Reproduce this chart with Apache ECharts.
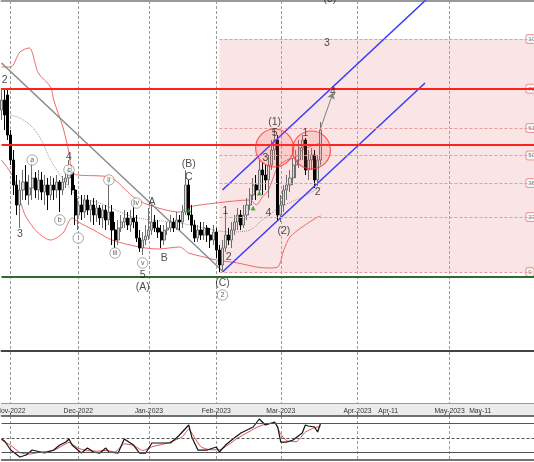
<!DOCTYPE html>
<html><head><meta charset="utf-8">
<script src="https://cdn.jsdelivr.net/npm/echarts@6/dist/echarts.min.js"></script>
<style>html,body{margin:0;padding:0;background:#fff}#c{width:534px;height:462px}</style>
</head><body><div id="c"></div>
<script>
// ---- slots / axis labels ----
const slotCount = 175;
const categories = Array.from({length: slotCount}, (_, i) => 'slot' + i);
const tickLabels = ['Nov-2022','Dec-2022','Jan-2023','Feb-2023','Mar-2023','Apr-2023','Apr-11','May-2023','May-11'];
const tickSlots  = [3, 25, 48, 70, 91, 116, 126, 146, 156];
const gridSlots  = [3, 25, 48, 70, 91, 116, 146];

// ---- candles [open, close, low, high] ----
const candles = [
[241,251,231,263],[251,236,221,263],[256,216,211,261],[216,191,186,221],[191,166,156,201],
[166,146,136,176],[146,161,123,171],[161,169,151,181],[169,156,151,186],[156,163,146,176],
[163,173,151,191],[173,161,153,179],[161,171,151,181],[171,159,151,179],[159,166,146,176],
[166,156,141,173],[156,166,151,175],[166,161,151,173],[161,169,153,176],[169,161,139,171],
[161,169,156,175],[169,173,163,179],[173,181,166,191],[179,161,156,186],[161,136,126,166],
[136,146,121,153],[146,139,131,156],[139,151,133,156],[151,141,136,156],[141,146,129,151],
[146,136,126,153],[136,143,129,151],[143,133,126,146],[133,141,123,146],[141,131,121,146],
[131,139,126,171],[139,121,106,146],[121,111,103,129],[111,123,106,131],[123,129,119,136],
[129,133,123,141],[133,126,121,139],[126,133,119,141],[133,129,123,151],[129,113,109,136],
[113,103,99,121],[103,111,96,119],[111,115,106,126],[115,121,111,143],[121,129,116,146],
[129,123,119,136],[123,119,113,131],[119,111,103,126],[111,121,106,126],[121,123,116,129],
[123,129,119,136],[129,123,119,133],[123,131,121,139],[131,129,121,136],[129,139,123,146],
[139,166,136,181],[166,136,131,171],[136,126,119,146],[126,113,109,131],[113,121,109,126],
[121,116,111,129],[116,123,111,129],[123,116,109,126],[116,111,103,123],[111,119,106,126],
[119,101,93,123],[101,86,79,106],[86,103,81,111],[103,116,99,141],[116,111,106,123],
[111,121,103,129],[121,129,116,136],[129,136,121,143],[136,126,121,141],[126,136,123,146],
[136,146,131,153],[146,156,141,163],[156,166,151,173],[166,161,151,176],[161,181,156,191],
[181,176,156,189],[176,171,161,186],[171,186,153,196],[186,201,181,211],[201,211,191,223],
[211,136,131,216],[136,146,129,156],[146,161,139,166],[161,166,151,176],[166,173,159,181],
[173,186,166,193],[186,191,173,201],[191,203,183,211],[203,211,191,216],[211,181,176,213],
[181,191,171,201],[191,196,181,203],[196,171,163,201],[171,191,165,196],[191,221,186,229]
];

// ---- Bollinger bands [slot, price] ----
const bbUpper = [[0,284],[3,284],[6,299],[9,303],[12,278],[16,264],[17,251],[20,224],[22,198],[23,179],[25,176],[35,174],[43,154],[48,146],[58,139],[61,144],[70,148],[81,151],[83,146],[85,154],[87,161],[90,184],[93,191],[96,194],[98,201],[104,208]];
const bbMid = [[3,236],[6,233],[10,224],[13,211],[16,191],[21,168],[25,154],[32,148],[43,134],[58,128],[66,123],[74,119],[81,121],[85,131],[91,144],[98,154],[104,164]];
const bbLower = [[0,191],[4,173],[6,151],[8,134],[12,118],[16,111],[20,118],[23,133],[25,129],[30,121],[36,111],[45,104],[51,102],[58,104],[61,98],[66,94],[70,91],[77,88],[83,84],[87,83],[90,84],[92,101],[94,114],[98,124],[103,134],[104,135]];

// ---- trend lines ----
const downTrend = [[0,288],[72,80]];
const channelUpper = [[72,161],[140,356]];
const channelLower = [[72,79],[138,268]];
const arrowFrom = [104.4,223], arrowTo = [108,258];

// ---- levels ----
const fibLevels = [0, 23.6, 38.2, 50, 61.8, 78.6, 100];
const fibTagText = ['0','23.6','38.2','50','61.8','78.6','100'];
const fibLow = 79, fibHigh = 312, fibStartSlot = 70.5, fibEndSlot = 174;
const redLevels = [262, 206];
const supportLevel = 74;

// ---- labels ----
const waveText  = ['2','3','4','3','5','(1)','4','(2)','1','2','1','2','(C)','(B)','C','A','B','5','(A)','3','(3)','4'];
const waveSlot  = [1,6,22,85.5,89.4,89.4,87.2,91.7,98.6,102.8,73.1,74.1,71.8,60.8,60.8,48.7,52.6,46.4,45.8,106,107.4,108];
const wavePrice = [271,117,194,193,218,229,138,120,218,159,140,94,68,187,174,149,93,76,64,308,352,259];
const circText  = ['a','c','b','i','ii','iii','iv','v','2'];
const circSlot  = [10,22,19,25,35,37,43.5,46,72];
const circPrice = [191,181,131,113,171,98,148,88,56];
const zoneSlot  = [89.1,100.8];
const zonePrice = [203,201];
const arrowUpSlot  = [61,82,84];
const arrowUpPrice = [141,143,158];

// ---- RSI ----
const rsiLine = [[0,48.6],[1,45.9],[3,33.6],[6,24.1],[8,26.8],[10,33.6],[14,29.5],[17,33.6],[19,40.4],[21,44.5],[22,48.6],[23,40.4],[26,29.5],[28,36.3],[30,30.9],[32,29.5],[34,36.3],[35,30.9],[38,29.5],[40,48.6],[43,40.4],[45,29.5],[47,29.5],[49,43.2],[53,43.2],[55,43.2],[57,50],[58,54.1],[61,67.7],[62,51.4],[64,33.6],[67,33.6],[70,37.7],[71,30.9],[73,40.4],[75,47.3],[78,56.8],[80,60.9],[82,65],[84,75.9],[86,67.7],[88,70.5],[89,71.8],[90,65],[91,44.5],[93,44.5],[95,47.3],[98,56.8],[99,67.7],[100,66.4],[102,65],[103,58.2],[104,70.5]];
const rsiSignal = [[0,47],[3,40],[6,30],[9,28],[13,31],[17,33],[20,40],[22,44],[25,36],[28,33],[31,32],[34,33],[37,31],[40,42],[43,40],[46,33],[49,38],[53,42],[56,46],[59,52],[61,62],[63,50],[65,38],[68,34],[71,34],[74,41],[77,50],[80,57],[83,64],[86,69],[89,70],[91,55],[93,46],[96,45],[99,58],[102,64],[104,66]];
const rsiLevels = [70, 50, 30];

// ---- build option ----
const isGrid = (i) => gridSlots.indexOf(i) >= 0;
const isTick = (i) => tickSlots.indexOf(i) >= 0;
const fibPrice = (l) => fibLow + (fibHigh - fibLow) * l / 100;
const dashV = {color:'#9a9a9a', type:[3,2], width:1};
const font = 'Liberation Sans, Arial, sans-serif';

const fibLines = fibLevels.map(l => [
  {coord:[fibStartSlot, fibPrice(l)], lineStyle:{color:'#e89a9a', type:[3,2], width:1}},
  {coord:[fibEndSlot, fibPrice(l)]}
]);
const redLines = redLevels.map(v => ({yAxis:v, lineStyle:{color:'#ff2020', width:2.2, type:'solid'}}));

const baseX = {type:'category', data:categories, boundaryGap:false, axisTick:{show:false}, axisLabel:{show:false}};
const baseGrid = {left:1.5, width:534, containLabel:false, outerBoundsMode:'none'};

const option = {
  animation:false,
  backgroundColor:'#fff',
  textStyle:{fontFamily:font},
  graphic:[{type:'rect', shape:{x:0,y:404,width:534,height:12}, style:{fill:'#ececec'}, z:-10}],
  grid:[
    Object.assign({}, baseGrid, {top:1, height:350}),
    Object.assign({}, baseGrid, {top:352, height:51}),
    Object.assign({}, baseGrid, {top:416, height:44})
  ],
  xAxis:[
    Object.assign({}, baseX, {gridIndex:0, axisLine:{lineStyle:{color:'#444', width:2}}, splitLine:{show:true, interval:isGrid, lineStyle:dashV}}),
    Object.assign({}, baseX, {gridIndex:0, position:'top', axisLine:{lineStyle:{color:'#999', width:2}}}),
    Object.assign({}, baseX, {gridIndex:1, axisLine:{lineStyle:{color:'#999', width:1}}, splitLine:{show:true, interval:isGrid, lineStyle:dashV}}),
    Object.assign({}, baseX, {gridIndex:2, position:'top', axisLine:{lineStyle:{color:'#444', width:1.5}},
      axisTick:{show:true, interval:isTick, length:3, lineStyle:{color:'#666'}},
      axisLabel:{show:true, interval:isTick, margin:1.5, fontSize:6.8, color:'#333', fontFamily:font, hideOverlap:false,
        formatter:(v, i) => { const k = tickSlots.indexOf(i); return k >= 0 ? tickLabels[k] : ''; }},
      splitLine:{show:true, interval:isGrid, lineStyle:dashV}}),
    Object.assign({}, baseX, {gridIndex:2, axisLine:{lineStyle:{color:'#444', width:1.5}}})
  ],
  yAxis:[
    {gridIndex:0, type:'value', min:0, max:350, show:false},
    {gridIndex:1, type:'value', min:0, max:1, show:false},
    {gridIndex:2, type:'value', min:20, max:80, show:false}
  ],
  series:[
    {name:'fibTags', type:'scatter', xAxisIndex:0, yAxisIndex:0, z:1, symbolSize:0, clip:false,
      data: fibLevels.map((l, k) => [171, fibPrice(l), fibTagText[k]]),
      label:{show:true, position:'right', distance:0, formatter:p => p.data[2], fontSize:6, color:'#555',
        backgroundColor:'#fff', borderColor:'#e08a8a', borderWidth:1, borderRadius:2, padding:[1,2]},
      markArea:{silent:true, itemStyle:{color:'rgba(236,170,170,0.30)'},
        data:[[{coord:[fibStartSlot, fibLow]}, {coord:[fibEndSlot, fibHigh]}]]},
      markLine:{silent:true, symbol:['none','none'], label:{show:false}, animation:false,
        data: fibLines.concat(redLines).concat([{yAxis:supportLevel, lineStyle:{color:'#2f6a2f', width:2, type:'solid'}}])}
    },
    {name:'bbUpper', type:'line', xAxisIndex:0, yAxisIndex:0, data:bbUpper, smooth:0.3, symbol:'none', z:2, lineStyle:{color:'#f06868', width:1}},
    {name:'bbLower', type:'line', xAxisIndex:0, yAxisIndex:0, data:bbLower, smooth:0.3, symbol:'none', z:2, lineStyle:{color:'#f06868', width:1}},
    {name:'bbMid', type:'line', xAxisIndex:0, yAxisIndex:0, data:bbMid, smooth:0.3, symbol:'none', z:2, lineStyle:{color:'#999', width:1, type:'dotted'}},
    {name:'downTrend', type:'line', xAxisIndex:0, yAxisIndex:0, data:downTrend, symbol:'none', z:2, lineStyle:{color:'#8a8a8a', width:1.5}},
    {name:'price', type:'candlestick', xAxisIndex:0, yAxisIndex:0, data:candles, barWidth:2.6, z:3,
      itemStyle:{color:'#dcdcdc', color0:'#000', borderColor:'#6e6e6e', borderColor0:'#000', borderWidth:1}},
    {name:'channelUpper', type:'line', xAxisIndex:0, yAxisIndex:0, data:channelUpper, symbol:'none', z:4, lineStyle:{color:'#3a3aff', width:1.5}},
    {name:'channelLower', type:'line', xAxisIndex:0, yAxisIndex:0, data:channelLower, symbol:'none', z:4, lineStyle:{color:'#3a3aff', width:1.5},
      markLine:{silent:true, symbol:['none','arrow'], symbolSize:6, label:{show:false},
        data:[[{coord:arrowFrom, lineStyle:{color:'#808080', width:1, type:'solid'}}, {coord:arrowTo}]]}},
    {name:'zones', type:'scatter', xAxisIndex:0, yAxisIndex:0, z:5, symbolSize:38,
      data: zoneSlot.map((s, k) => [s, zonePrice[k]]),
      itemStyle:{color:'rgba(255,90,90,0.22)', borderColor:'#ff3434', borderWidth:1.2}},
    {name:'upArrows', type:'scatter', xAxisIndex:0, yAxisIndex:0, z:5, symbol:'triangle', symbolSize:5,
      data: arrowUpSlot.map((s, k) => [s, arrowUpPrice[k]]), itemStyle:{color:'#2a9a2a'}},
    {name:'waves', type:'scatter', xAxisIndex:0, yAxisIndex:0, z:6, symbolSize:0, clip:false,
      data: waveText.map((t, k) => [waveSlot[k], wavePrice[k], t]),
      label:{show:true, position:'inside', formatter:p => p.data[2], fontSize:10.5, color:'#222', fontFamily:font}},
    {name:'subwaves', type:'scatter', xAxisIndex:0, yAxisIndex:0, z:6, symbol:'circle', symbolSize:10.5,
      data: circText.map((t, k) => [circSlot[k], circPrice[k], t]),
      itemStyle:{color:'#fff', borderColor:'#777', borderWidth:0.8},
      label:{show:true, position:'inside', formatter:p => p.data[2], fontSize:7, color:'#333', fontFamily:font}},
    {name:'rsi', type:'line', xAxisIndex:3, yAxisIndex:2, data:rsiLine, symbol:'none', z:3, lineStyle:{color:'#111', width:1.2},
      markLine:{silent:true, symbol:['none','none'], label:{show:false},
        data: rsiLevels.map(v => ({yAxis:v, lineStyle:{color:'#555', width:1.2, type: v === 50 ? [3,2] : 'solid'}}))}},
    {name:'rsiSignal', type:'line', xAxisIndex:3, yAxisIndex:2, data:rsiSignal, symbol:'none', smooth:0.2, z:2, lineStyle:{color:'#e05050', width:1}}
  ]
};
const chart = echarts.init(document.getElementById('c'), null, {renderer:'canvas'});
chart.setOption(option);
</script>
</body></html>
